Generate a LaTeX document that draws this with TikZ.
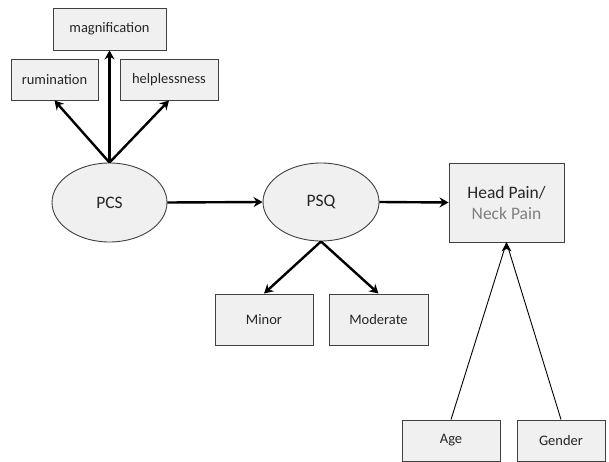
\documentclass[tikz,border=0pt]{standalone}
\usepackage{fontspec}
\setmainfont{Carlito}
\usetikzlibrary{arrows.meta,shapes.geometric}
\definecolor{boxfill}{HTML}{F0F0F0}
\definecolor{edge}{HTML}{404040}
\definecolor{ink}{HTML}{262626}
\definecolor{soft}{HTML}{7F7F7F}
\begin{document}
\begin{tikzpicture}[x=1pt,y=-1pt,
  every node/.style={inner sep=0pt,text=ink},
  itembox/.style={draw=edge,line width=0.9pt,fill=boxfill,rectangle,font=\fontsize{14.5}{16}\selectfont},
  latent/.style={draw=edge,line width=0.9pt,fill=boxfill,ellipse,font=\fontsize{17.5}{20}\selectfont},
  bold arrow/.style={line width=2.4pt,-{Stealth[length=9pt,width=10pt,inset=3pt]}},
  thin arrow/.style={line width=0.9pt}]
\useasboundingbox (0,0) rectangle (609,462);
% latent variables
\node[latent,minimum width=115pt,minimum height=79pt] (pcs) at (109.5,202.5) {PCS};
\node[latent,minimum width=116pt,minimum height=78pt] (psq) at (321,202) {PSQ};
% PCS subscales
\node[itembox,minimum width=113pt,minimum height=42pt] (mag) at (109.5,29) {magnification};
\node[itembox,minimum width=87pt,minimum height=41pt] (rum) at (54.5,79.5) {rumination};
\node[itembox,minimum width=98pt,minimum height=41pt] (help) at (169,79.5) {helplessness};
% PSQ levels
\node[itembox,minimum width=98pt,minimum height=51pt] (minor) at (264,319.5) {Minor};
\node[itembox,minimum width=99pt,minimum height=51pt] (mod) at (378.5,319.5) {Moderate};
% outcome
\node[itembox,minimum width=115pt,minimum height=79pt,align=center,
      font=\fontsize{17.5}{21}\selectfont] (head) at (506.5,202.5)
      {Head Pain/\\\textcolor{soft}{Neck Pain}};
% covariates
\node[itembox,minimum width=98pt,minimum height=41pt] (age) at (451,440.5) {Age};
\node[itembox,minimum width=88pt,minimum height=41pt] (gender) at (561,440.5) {Gender};
% paths
\draw[bold arrow] (pcs.north) -- (rum.south);
\draw[bold arrow] (pcs.north) -- (mag.south);
\draw[bold arrow] (pcs.north) -- (help.south);
\draw[bold arrow] (pcs.east) -- (psq.west);
\draw[bold arrow] (psq.east) -- (head.west);
\draw[bold arrow] (psq.south) -- (minor.north);
\draw[bold arrow] (psq.south) -- (mod.north);
\draw[thin arrow] (age.north) -- (head.south);
\draw[thin arrow] (gender.north) -- (head.south);
\fill[black] (head.south) ++(-5,9) -- (head.south) -- ++(5,9) -- ++(-5,-2.5) -- cycle;
\end{tikzpicture}
\end{document}
